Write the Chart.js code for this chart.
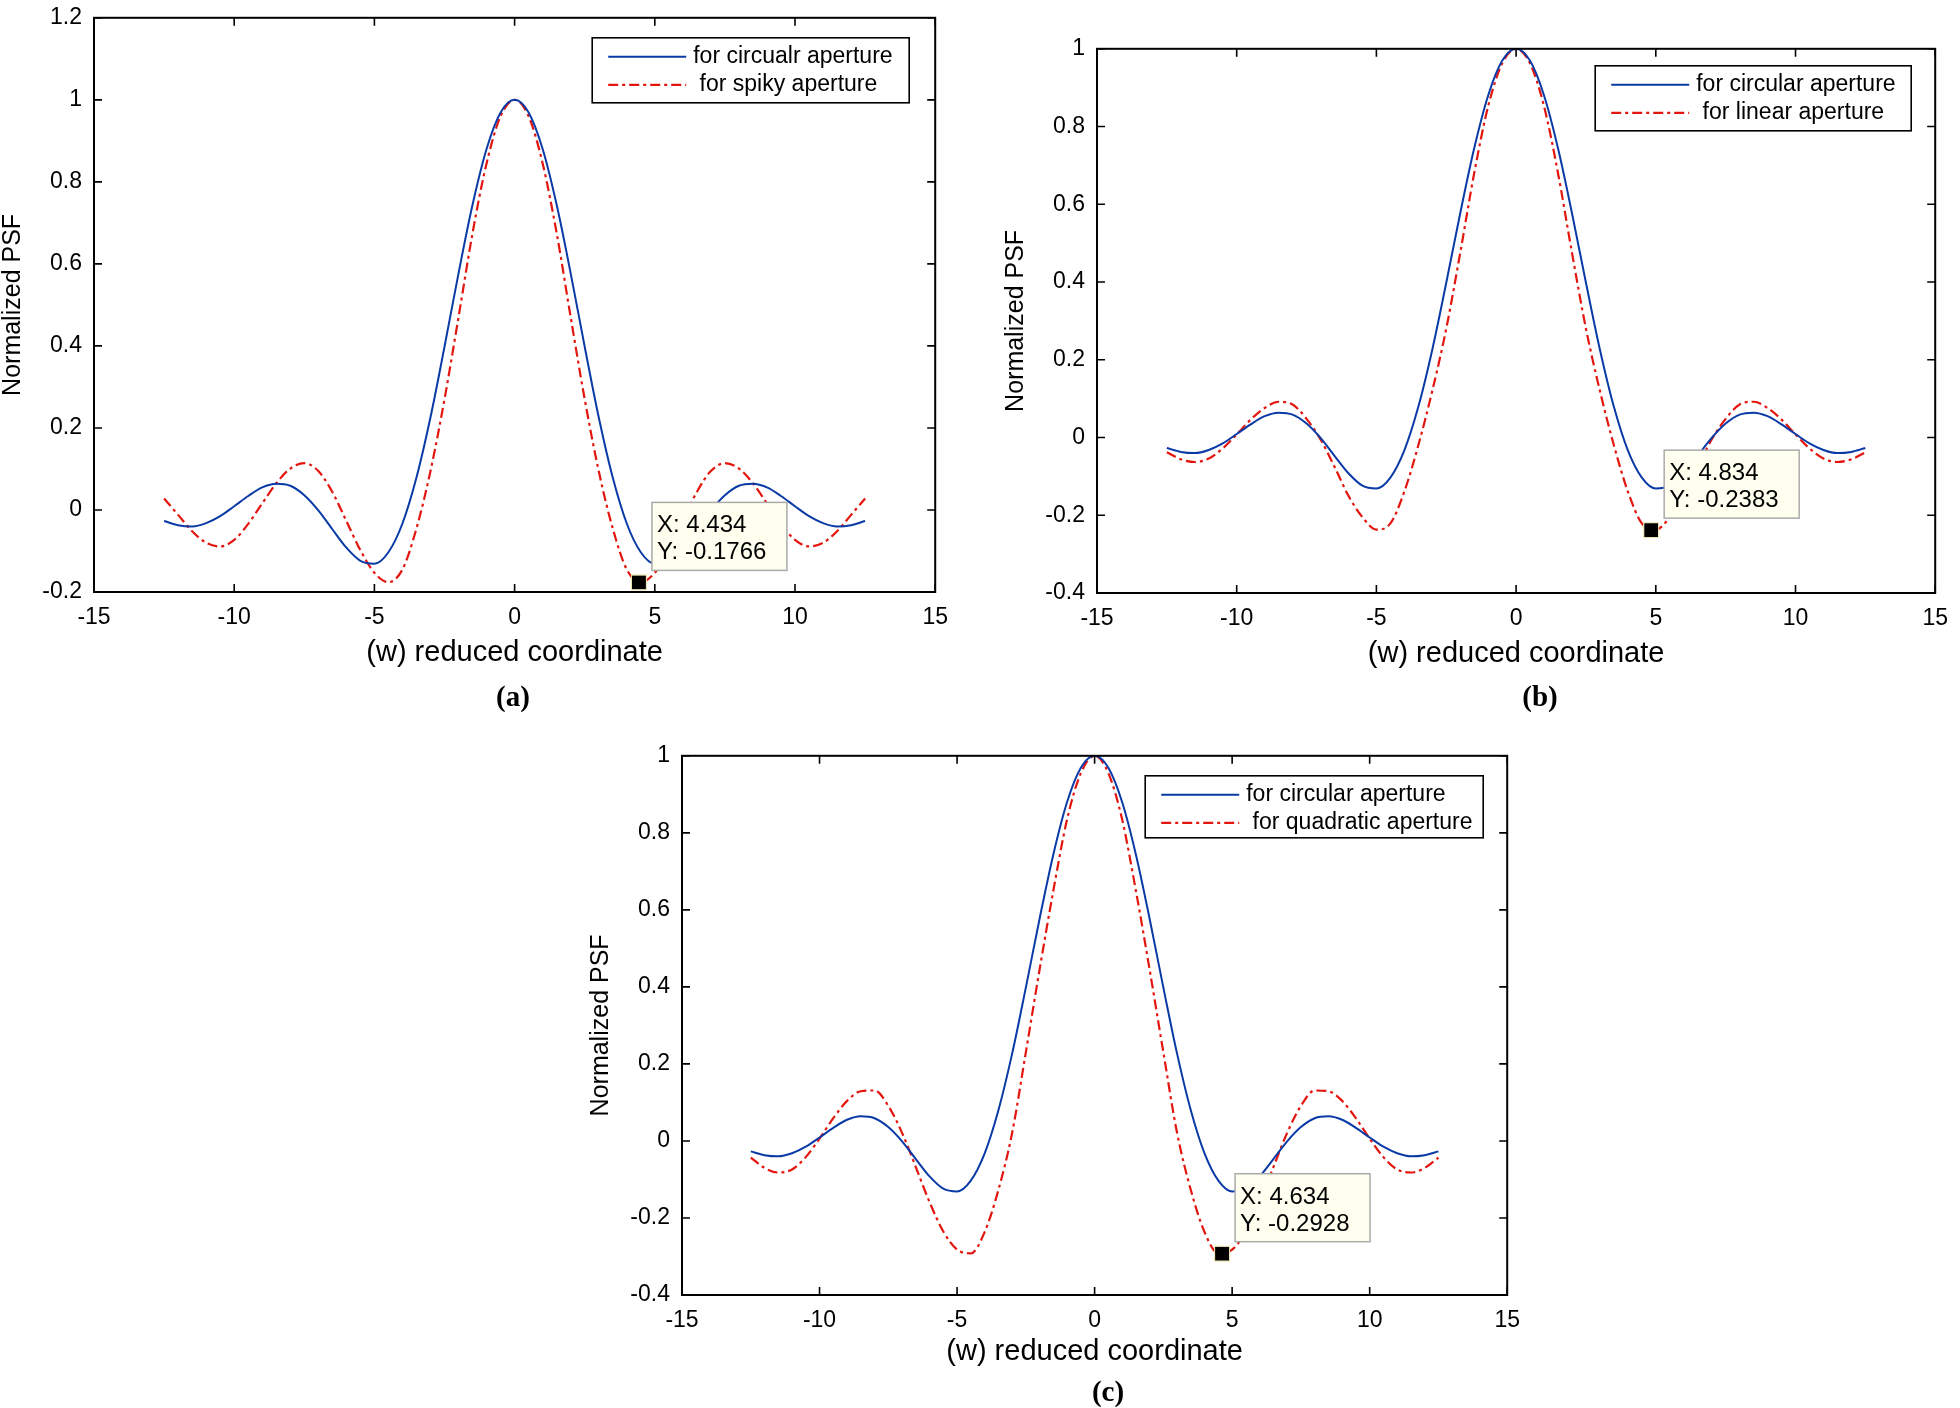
<!DOCTYPE html>
<html>
<head>
<meta charset="utf-8">
<title>Normalized PSF of circular, spiky, linear and quadratic apertures</title>
<script src="https://cdn.jsdelivr.net/npm/chart.js@4.4.1/dist/chart.umd.min.js"></script>
<style>
    html, body {
        margin: 0;
        padding: 0;
        background: #ffffff;
        overflow: hidden;
    }

    body {
        position: relative;
        width: 1960px;
        height: 1408px;
    }

    .panel {
        position: absolute;
    }

    .caption {
        position: absolute;
        transform: translate(-50%, -50%);
        font-family: "Liberation Serif", "Times New Roman", serif;
        font-weight: bold;
        font-size: 29px;
        color: #000000;
    }
</style>
</head>
<body>

<div class="panel"><canvas id="chartA"></canvas></div>
<div class="panel"><canvas id="chartB"></canvas></div>
<div class="panel"><canvas id="chartC"></canvas></div>

<div class="caption" style="left:513px; top:696px;">(a)</div>
<div class="caption" style="left:1540px; top:696px;">(b)</div>
<div class="caption" style="left:1108px; top:1391px;">(c)</div>

<script>
"use strict";

// ------------------------------------
// Data.
// ------------------------------------

// Reduced coordinate w (shared by every curve)
const xValues = [
    -12.5, -12, -11.5, -11, -10.5, -10, -9.5, -9, -8.5, -8, -7.5, -7, -6.5,
    -6, -5.5, -5, -4.5, -4, -3.5, -3, -2.5, -2, -1.5, -1, -0.5,
    0,
    0.5, 1, 1.5, 2, 2.5, 3, 3.5, 4, 4.5, 5, 5.5, 6, 6.5,
    7, 7.5, 8, 8.5, 9, 9.5, 10, 10.5, 11, 11.5, 12, 12.5
];

// Blue curve, identical in (a), (b) and (c)
const circularPsf = [
    -0.027, -0.037, -0.040, -0.032, -0.015, 0.009, 0.034, 0.055, 0.064, 0.059, 0.036, -0.001, -0.047,
    -0.092, -0.124, -0.131, -0.103, -0.033, 0.079, 0.226, 0.398, 0.577, 0.744, 0.880, 0.969,
    1.000,
    0.969, 0.880, 0.744, 0.577, 0.398, 0.226, 0.079, -0.033, -0.103, -0.131, -0.124, -0.092, -0.047,
    -0.001, 0.036, 0.059, 0.064, 0.055, 0.034, 0.009, -0.015, -0.032, -0.040, -0.037, -0.027
];

// Red curve of (a)
const spikyPsf = [
    0.028, -0.012, -0.052, -0.080, -0.089, -0.073, -0.034, 0.016, 0.065, 0.101, 0.114, 0.095, 0.044,
    -0.027, -0.098, -0.153, -0.176, -0.145, -0.045, 0.095, 0.270, 0.470, 0.675, 0.845, 0.960,
    1.000,
    0.960, 0.845, 0.675, 0.470, 0.270, 0.095, -0.045, -0.145, -0.176, -0.153, -0.098, -0.027, 0.044,
    0.095, 0.114, 0.101, 0.065, 0.016, -0.034, -0.073, -0.089, -0.080, -0.052, -0.012, 0.028
];

// Red curve of (b)
const linearPsf = [
    -0.038, -0.056, -0.063, -0.054, -0.028, 0.008, 0.046, 0.076, 0.092, 0.085, 0.048, -0.005, -0.075,
    -0.150, -0.205, -0.237, -0.221, -0.139, -0.020, 0.120, 0.280, 0.475, 0.680, 0.852, 0.962,
    1.000,
    0.962, 0.852, 0.680, 0.475, 0.280, 0.120, -0.020, -0.139, -0.221, -0.237, -0.205, -0.150, -0.075,
    -0.005, 0.048, 0.085, 0.092, 0.076, 0.046, 0.008, -0.028, -0.054, -0.063, -0.056, -0.038
];

// Red curve of (c)
const quadraticPsf = [
    -0.043, -0.070, -0.082, -0.074, -0.042, 0.006, 0.059, 0.104, 0.129, 0.131, 0.091, 0.021, -0.068,
    -0.159, -0.235, -0.282, -0.292, -0.237, -0.128, 0.020, 0.230, 0.445, 0.650, 0.835, 0.955,
    1.000,
    0.955, 0.835, 0.650, 0.445, 0.230, 0.020, -0.128, -0.237, -0.292, -0.282, -0.235, -0.159, -0.068,
    0.021, 0.091, 0.131, 0.129, 0.104, 0.059, 0.006, -0.042, -0.074, -0.082, -0.070, -0.043
];

// Legend texts
const circularLabels = ["for circualr aperture", "for circular aperture", "for circular aperture"];
const redLabels = [" for spiky aperture", " for linear aperture", " for quadratic aperture"];

// MATLAB data tips (a), (b), (c)
const tipX = [4.434, 4.834, 4.634];
const tipY = [-0.1766, -0.2383, -0.2928];

// Axis ranges
const xRange = [-15, 15];
const xStep = 5;
const yRanges = [[-0.2, 1.2], [-0.4, 1], [-0.4, 1]];
const yStep = 0.2;

// ------------------------------------
// Layout (page pixels of each axes box).
// ------------------------------------

const axesBoxes = [
    { left: 94, top: 8, right: 946, bottom: 592 },
    { left: 1097, top: 39, right: 1946, bottom: 593 },
    { left: 682, top: 746, right: 1518, bottom: 1295 }
];

const xTitleOffsets = [61, 61, 57];

const legendBoxes = [
    { right: 26, top: 20, width: 317, height: 65 },
    { right: 24, top: 17, width: 316, height: 65 },
    { right: 24, top: 20, width: 338, height: 62 }
];

const Y_AXIS_W = 110;
const X_AXIS_H = 92;
const PAD_TOP = 16;
const PAD_RIGHT = 14;
const TICK_LEN = 8;

const FONT_FAMILY = "'Liberation Sans', Arial, Helvetica, sans-serif";
const BLUE = "#0a3aa6";
const RED = "#e3150f";
const RED_DASH = [10, 4, 3, 4];

/**
 * Draws the MATLAB look: closed box with inward ticks,
 * the data tip and the legend inside the axes.
 */
const matlabFrame = {

    id: "matlabFrame",

    afterDatasetsDraw(chart, args, opts) {

        const { ctx, chartArea } = chart;
        const xScale = chart.scales.x;
        const yScale = chart.scales.y;

        ctx.save();

        // Box and inward ticks
        ctx.strokeStyle = "#000000";
        ctx.lineWidth = 2;
        ctx.strokeRect(chartArea.left, chartArea.top, chartArea.width, chartArea.height);

        ctx.lineWidth = 1.6;
        ctx.beginPath();

        xScale.ticks.forEach(tick => {
            const px = xScale.getPixelForValue(tick.value);
            ctx.moveTo(px, chartArea.bottom);
            ctx.lineTo(px, chartArea.bottom - TICK_LEN);
            ctx.moveTo(px, chartArea.top);
            ctx.lineTo(px, chartArea.top + TICK_LEN);
        });

        yScale.ticks.forEach(tick => {
            const py = yScale.getPixelForValue(tick.value);
            ctx.moveTo(chartArea.left, py);
            ctx.lineTo(chartArea.left + TICK_LEN, py);
            ctx.moveTo(chartArea.right, py);
            ctx.lineTo(chartArea.right - TICK_LEN, py);
        });

        ctx.stroke();

        // Data tip marker and box
        const tx = xScale.getPixelForValue(opts.tipX);
        const ty = yScale.getPixelForValue(opts.tipY);

        ctx.fillStyle = "#000000";
        ctx.fillRect(tx - 7, ty - 7, 14, 14);
        ctx.strokeStyle = "#ece6a8";
        ctx.lineWidth = 1;
        ctx.strokeRect(tx - 7.5, ty - 7.5, 15, 15);

        const bx = tx + 13;
        const by = ty - 80;

        ctx.fillStyle = "#ffffef";
        ctx.fillRect(bx, by, 135, 68);
        ctx.strokeStyle = "#aaaaaa";
        ctx.lineWidth = 1.5;
        ctx.strokeRect(bx, by, 135, 68);

        ctx.fillStyle = "#000000";
        ctx.font = "24px " + FONT_FAMILY;
        ctx.textAlign = "left";
        ctx.textBaseline = "alphabetic";
        ctx.fillText("X: " + opts.tipX, bx + 5, by + 30);
        ctx.fillText("Y: " + opts.tipY, bx + 5, by + 57);

        // Legend
        const lg = opts.legend;
        const lx = chartArea.right - lg.right - lg.width;
        const ly = chartArea.top + lg.top;

        ctx.fillStyle = "#ffffff";
        ctx.fillRect(lx, ly, lg.width, lg.height);
        ctx.strokeStyle = "#000000";
        ctx.lineWidth = 1.6;
        ctx.strokeRect(lx, ly, lg.width, lg.height);

        ctx.font = "23px " + FONT_FAMILY;
        ctx.textBaseline = "middle";

        chart.data.datasets.forEach((dataset, i) => {

            const rowY = ly + 19 + i * 28;

            ctx.strokeStyle = dataset.borderColor;
            ctx.lineWidth = dataset.borderWidth;
            ctx.setLineDash(dataset.borderDash || []);
            ctx.beginPath();
            ctx.moveTo(lx + 16, rowY);
            ctx.lineTo(lx + 94, rowY);
            ctx.stroke();
            ctx.setLineDash([]);

            ctx.fillStyle = "#000000";
            ctx.fillText(dataset.label, lx + 101, rowY);

        });

        ctx.restore();

    }

};

/**
 * Builds one panel: places its canvas so that the
 * chart area lands on the axes box of the reference.
 */
function makePanel(index, canvasId, redSeries) {

    const box = axesBoxes[index];
    const canvas = document.getElementById(canvasId);
    const wrap = canvas.parentElement;

    const left = box.left - Y_AXIS_W;
    const top = box.top - PAD_TOP;
    const width = box.right + PAD_RIGHT - left;
    const height = box.bottom + X_AXIS_H - top;

    wrap.style.left = left + "px";
    wrap.style.top = top + "px";
    wrap.style.width = width + "px";
    wrap.style.height = height + "px";

    canvas.width = width;
    canvas.height = height;
    canvas.style.width = width + "px";
    canvas.style.height = height + "px";

    const xTitleFont = { family: FONT_FAMILY, size: 29, lineHeight: 1.2 };
    const yTitleFont = { family: FONT_FAMILY, size: 25, lineHeight: 1.2 };

    return new Chart(canvas, {

        type: "line",

        data: {

            datasets: [

                {
                    label: circularLabels[index],
                    data: xValues.map((x, i) => ({ x: x, y: circularPsf[i] })),
                    borderColor: BLUE,
                    borderWidth: 2,
                    pointRadius: 0,
                    cubicInterpolationMode: "monotone",
                    fill: false
                },

                {
                    label: redLabels[index],
                    data: xValues.map((x, i) => ({ x: x, y: redSeries[i] })),
                    borderColor: RED,
                    borderWidth: 2.2,
                    borderDash: RED_DASH,
                    pointRadius: 0,
                    cubicInterpolationMode: "monotone",
                    fill: false
                }

            ]

        },

        options: {

            responsive: false,
            animation: false,
            events: [],

            layout: {
                padding: { left: 0, top: PAD_TOP, right: PAD_RIGHT, bottom: 0 }
            },

            scales: {

                x: {
                    type: "linear",
                    min: xRange[0],
                    max: xRange[1],
                    grid: { display: false, drawTicks: false },
                    border: { display: false },
                    ticks: {
                        stepSize: xStep,
                        padding: 12,
                        color: "#000000",
                        font: { family: FONT_FAMILY, size: 23 },
                        maxRotation: 0,
                        callback: value => String(value)
                    },
                    title: {
                        display: true,
                        text: "(w) reduced coordinate",
                        color: "#000000",
                        font: xTitleFont,
                        padding: { top: 0, bottom: X_AXIS_H - xTitleOffsets[index] - 29 * 1.2 / 2 }
                    },
                    afterFit: scale => {
                        scale.height = X_AXIS_H;
                    }
                },

                y: {
                    type: "linear",
                    min: yRanges[index][0],
                    max: yRanges[index][1],
                    grid: { display: false, drawTicks: false },
                    border: { display: false },
                    ticks: {
                        stepSize: yStep,
                        padding: 12,
                        color: "#000000",
                        font: { family: FONT_FAMILY, size: 23 },
                        callback: value => String(Math.round(value * 10) / 10)
                    },
                    title: {
                        display: true,
                        text: "Normalized PSF",
                        color: "#000000",
                        font: yTitleFont,
                        padding: { top: Y_AXIS_W - 81 - 25 * 1.2 / 2, bottom: 0 }
                    },
                    afterFit: scale => {
                        scale.width = Y_AXIS_W;
                    }
                }

            },

            plugins: {
                legend: { display: false },
                tooltip: { enabled: false },
                matlabFrame: {
                    tipX: tipX[index],
                    tipY: tipY[index],
                    legend: legendBoxes[index]
                }
            }

        },

        plugins: [matlabFrame]

    });

}

makePanel(0, "chartA", spikyPsf);
makePanel(1, "chartB", linearPsf);
makePanel(2, "chartC", quadraticPsf);
</script>
</body>
</html>
